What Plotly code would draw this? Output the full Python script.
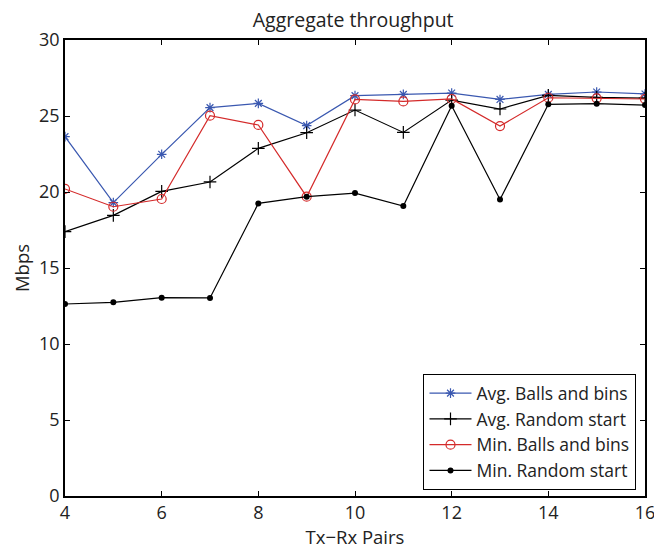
import plotly.graph_objects as go

# Number of transmitter-receiver pairs
pairs = [4, 5, 6, 7, 8, 9, 10, 11, 12, 13, 14, 15, 16]

# Aggregate throughput (Mbps) for each scheme
avg_balls_bins = [23.64, 19.3, 22.48, 25.55, 25.83, 24.37, 26.34, 26.42, 26.51, 26.09, 26.42, 26.58, 26.45]
avg_random_start = [17.39, 18.46, 20.04, 20.66, 22.87, 23.9, 25.39, 23.92, 26.05, 25.46, 26.36, 26.23, 26.18]
min_balls_bins = [20.2, 19.03, 19.54, 25.02, 24.41, 19.69, 26.09, 25.96, 26.12, 24.34, 26.2, 26.16, 26.12]
min_random_start = [12.63, 12.74, 13.05, 13.03, 19.25, 19.69, 19.93, 19.08, 25.68, 19.5, 25.77, 25.81, 25.72]

x_ticks = [4, 6, 8, 10, 12, 14, 16]
y_ticks = [0, 5, 10, 15, 20, 25, 30]

BLUE = "#3a58b0"
RED = "#d42a2a"
BLACK = "#000000"
TEXT = "#222222"
FONT = "Open Sans"

fig = go.Figure()
fig.add_trace(go.Scatter(
    x=pairs, y=avg_balls_bins, name="Avg. Balls and bins", mode="lines+markers",
    line=dict(color=BLUE, width=1.2),
    marker=dict(symbol="asterisk-open", size=8, color=BLUE, line=dict(color=BLUE, width=1.2)),
))
fig.add_trace(go.Scatter(
    x=pairs, y=avg_random_start, name="Avg. Random start", mode="lines+markers",
    line=dict(color=BLACK, width=1.2),
    marker=dict(symbol="cross-thin-open", size=9, color=BLACK, line=dict(color=BLACK, width=1.2)),
))
fig.add_trace(go.Scatter(
    x=pairs, y=min_balls_bins, name="Min. Balls and bins", mode="lines+markers",
    line=dict(color=RED, width=1.2),
    marker=dict(symbol="circle-open", size=9, color=RED, line=dict(color=RED, width=1.2)),
))
fig.add_trace(go.Scatter(
    x=pairs, y=min_random_start, name="Min. Random start", mode="lines+markers",
    line=dict(color=BLACK, width=1.2),
    marker=dict(symbol="circle", size=6, color=BLACK),
))

axis_common = dict(
    showgrid=False, zeroline=False, showline=True, linecolor="black", linewidth=1.5,
    mirror="ticks", ticks="inside", ticklen=5, tickwidth=1, tickcolor="black",
    tickfont=dict(family=FONT, size=18, color=TEXT), automargin=False,
    ticklabeloverflow="allow",
)

fig.update_layout(
    width=654, height=550,
    margin=dict(l=65, r=9, t=40, b=54),
    paper_bgcolor="white", plot_bgcolor="white",
    font=dict(family=FONT, size=17, color=TEXT),
    title=dict(text="Aggregate throughput", x=0.54, xanchor="center",
               yref="container", y=0.964, yanchor="middle",
               font=dict(family=FONT, size=19.5, color=TEXT)),
    xaxis=dict(range=[4, 16], tickvals=x_ticks,
               title=dict(text="Tx\u2212Rx Pairs", standoff=0, font=dict(family=FONT, size=18.5)),
               **axis_common),
    yaxis=dict(range=[0, 30], tickvals=y_ticks,
               title=dict(text="Mbps", standoff=5, font=dict(family=FONT, size=18.5)),
               **axis_common),
    legend=dict(x=0.985, y=0.013, xanchor="right", yanchor="bottom",
                bgcolor="white", bordercolor="black", borderwidth=1.2,
                font=dict(family=FONT, size=17.5, color=TEXT),
                itemwidth=42, tracegroupgap=0),
    showlegend=True,
)

fig.write_html("out.html")
